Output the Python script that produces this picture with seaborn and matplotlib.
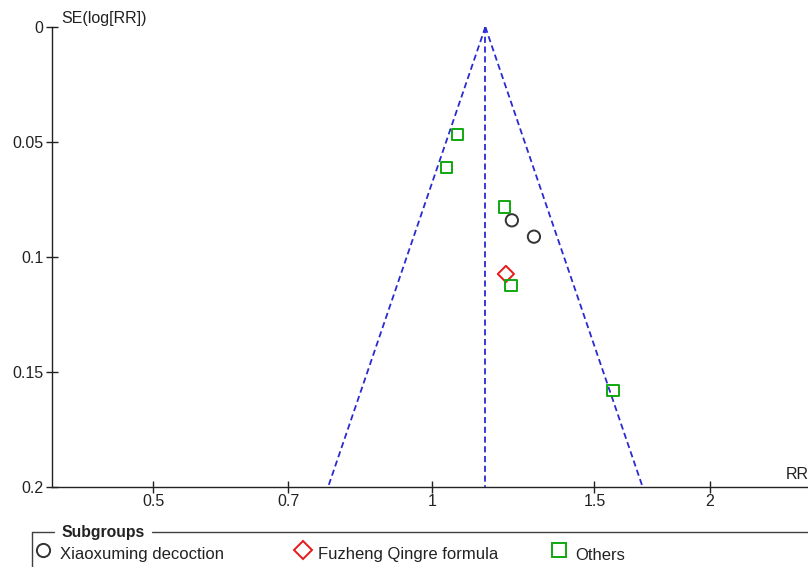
import numpy as np
import pandas as pd
import matplotlib
matplotlib.use("Agg")
import matplotlib.pyplot as plt
import seaborn as sns
from matplotlib.lines import Line2D
from matplotlib.transforms import Affine2D
from matplotlib.ticker import FixedLocator, FixedFormatter, NullLocator

# ---------------- data ----------------
groups = ["Xiaoxuming decoction", "Fuzheng Qingre formula", "Others"]
xiaoxuming_rr = [1.221, 1.290]
xiaoxuming_se = [0.0840, 0.0911]
fuzheng_rr = [1.203]
fuzheng_se = [0.1073]
others_rr = [1.067, 1.038, 1.198, 1.219, 1.570]
others_se = [0.0466, 0.0611, 0.0782, 0.1122, 0.1580]
pooled_rr = 1.143
se_range = [0.0, 0.2]
x_ticks = [0.5, 0.7, 1, 1.5, 2]
x_tick_labels = ["0.5", "0.7", "1", "1.5", "2"]
y_ticks = [0, 0.05, 0.1, 0.15, 0.2]
y_tick_labels = ["0", "0.05", "0.1", "0.15", "0.2"]

df = pd.DataFrame({
    "rr": xiaoxuming_rr + fuzheng_rr + others_rr,
    "se": xiaoxuming_se + fuzheng_se + others_se,
    "group": [groups[0]] * len(xiaoxuming_rr) + [groups[1]] * len(fuzheng_rr)
             + [groups[2]] * len(others_rr),
})

styles = {
    groups[0]: dict(marker="o", color="#333333", s=78),
    groups[1]: dict(marker="D", color="#e81818", s=68),
    groups[2]: dict(marker="s", color="#10a810", s=68),
}

# funnel lines
se_arr = np.array(se_range)
ln_p = np.log(pooled_rr)
funnel = pd.DataFrame({
    "se": np.concatenate([se_arr, se_arr, se_arr]),
    "rr": np.concatenate([np.exp(ln_p - 1.96 * se_arr),
                          np.exp(ln_p + 1.96 * se_arr),
                          np.full(2, pooled_rr)]),
    "line": ["left"] * 2 + ["right"] * 2 + ["center"] * 2,
})

# ---------------- figure ----------------
sns.set_style("white")
plt.rcParams["font.family"] = ["Liberation Sans", "DejaVu Sans"]

W, H = 808, 567
fig = plt.figure(figsize=(W / 100, H / 100), dpi=100)
ax = fig.add_axes([52 / W, (H - 487.3) / H, (W - 52) / W, (487.3 - 27) / H])

blue = "#2a2ad2"
for name in ["left", "right", "center"]:
    sub = funnel[funnel["line"] == name]
    sns.lineplot(data=sub, x="rr", y="se", ax=ax, sort=False, estimator=None,
                 color=blue, linewidth=1.3, linestyle=(0, (3.4, 2.0)),
                 legend=False, zorder=2)

for g in groups:
    st = styles[g]
    sub = df[df["group"] == g]
    sns.scatterplot(data=sub, x="rr", y="se", ax=ax, marker=st["marker"],
                    s=st["s"], facecolors="none", edgecolor=st["color"],
                    linewidth=1.4, zorder=3, legend=False)

ax.set_xscale("log")
ax.set_xlim(0.3884, 2.553)
ax.set_ylim(0.2, 0.0)
ax.xaxis.set_major_locator(FixedLocator(x_ticks))
ax.xaxis.set_major_formatter(FixedFormatter(x_tick_labels))
ax.xaxis.set_minor_locator(NullLocator())
ax.yaxis.set_major_locator(FixedLocator(y_ticks))
ax.yaxis.set_major_formatter(FixedFormatter(y_tick_labels))
ax.set_xlabel("")
ax.set_ylabel("")

for side in ["top", "right"]:
    ax.spines[side].set_visible(False)
for side in ["left", "bottom"]:
    ax.spines[side].set_color("#222222")
    ax.spines[side].set_linewidth(1.0)
ax.tick_params(axis="both", which="major", direction="inout", length=8,
               width=1.0, color="#222222", labelsize=11.5, labelcolor="#222222",
               bottom=True, left=True)
ax.tick_params(axis="y", pad=2.0)
ax.tick_params(axis="x", pad=1.0)
ax.patch.set_alpha(0)

# axis titles
px = Affine2D().scale(1 / W, -1 / H).translate(0, 1) + fig.transFigure
fig.text(61, 22.5, "SE(log[RR])", transform=px, fontsize=11.5,
         color="#222222", va="baseline", ha="left")
fig.text(786, 479, "RR", transform=px, fontsize=11.5, color="#222222",
         va="baseline", ha="left")

# legend group box
fcol = "#404040"
fig.add_artist(Line2D([32, 32], [532.3, 570], transform=px, color=fcol, lw=1.0))
fig.add_artist(Line2D([32, 54], [532.3, 532.3], transform=px, color=fcol, lw=1.0))
fig.add_artist(Line2D([152, 810], [532.3, 532.3], transform=px, color=fcol, lw=1.0))
fig.text(61, 537.5, "Subgroups", transform=px, fontsize=11.3,
         fontweight="bold", color="#222222", va="baseline", ha="left")

leg_marker_x = [43, 302.7, 559.3]
leg_text_x = [60, 317.7, 575]
leg_sizes = {"o": 9.5, "D": 9.0, "s": 9.4}
for g, mx, tx in zip(groups, leg_marker_x, leg_text_x):
    st = styles[g]
    fig.add_artist(Line2D([mx], [549.8], transform=px, marker=st["marker"],
                          markersize=leg_sizes[st["marker"]],
                          markerfacecolor="none", markeredgecolor=st["color"],
                          markeredgewidth=1.4, linestyle="none"))
    fig.text(tx, 559.5, g, transform=px, fontsize=12, color="#222222",
             va="baseline", ha="left")

fig.savefig("out.png", dpi=100)
